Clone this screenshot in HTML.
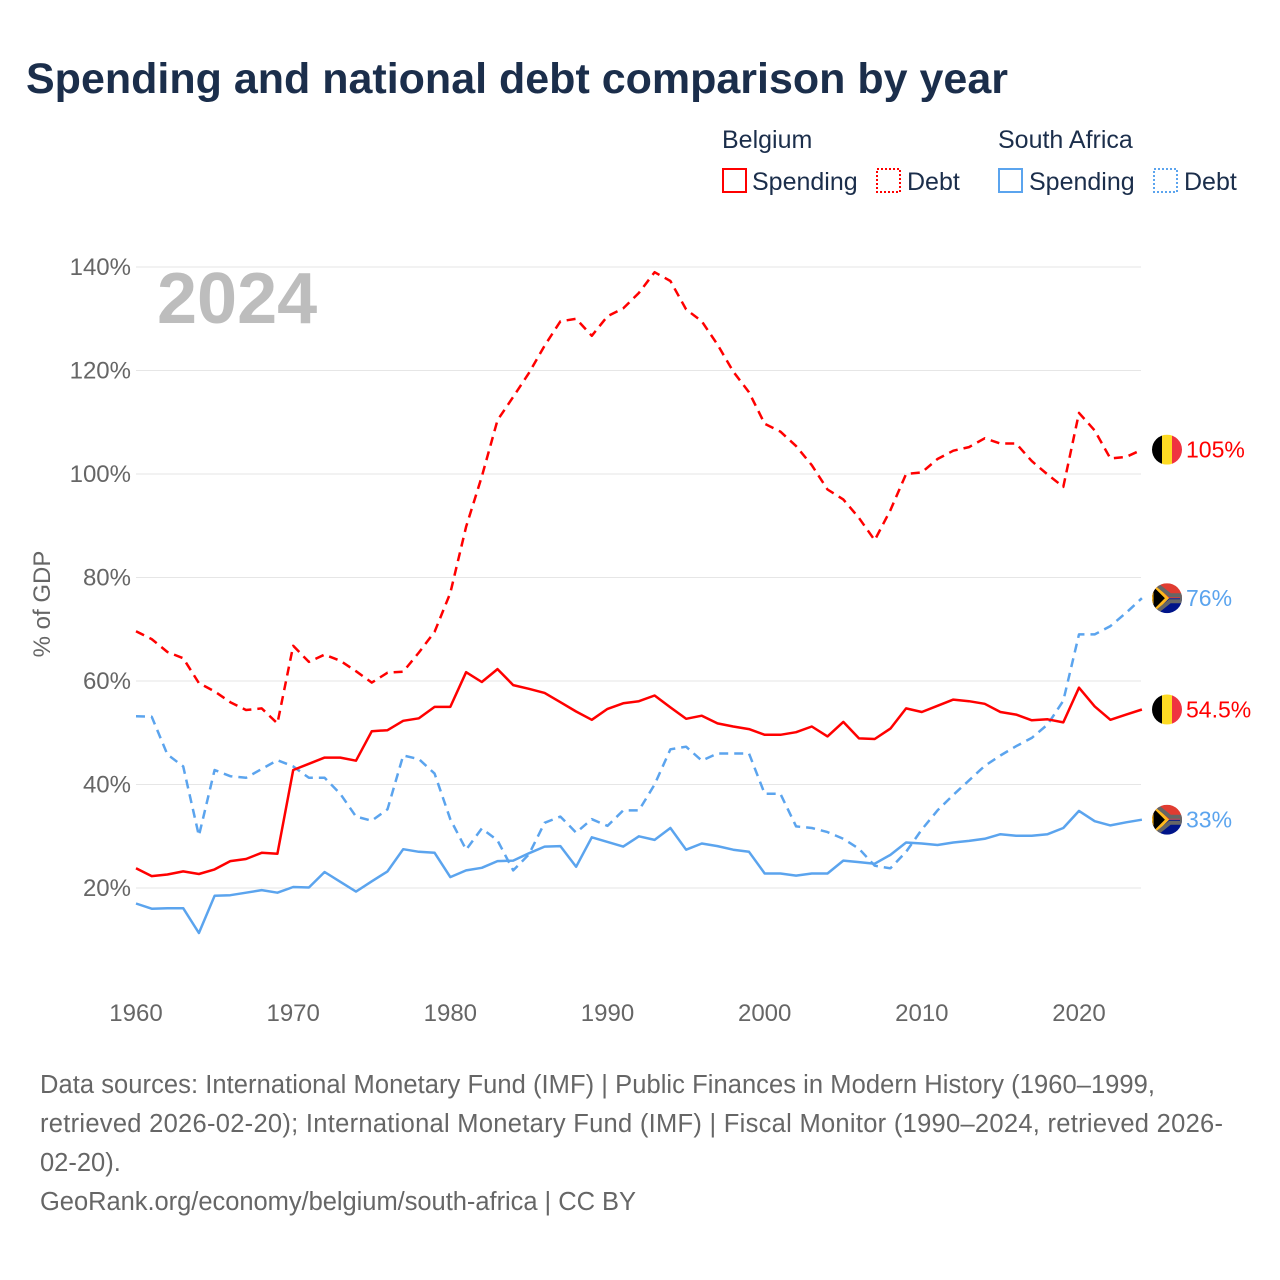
<!DOCTYPE html>
<html><head><meta charset="utf-8"><style>
body{margin:0;background:#fff;font-family:"Liberation Sans",sans-serif}
#root{position:relative;width:1280px;height:1280px;overflow:hidden}
</style></head><body>
<div id="root">
<svg id="chart" width="1280" height="1280">
<text x="26" y="93" font-size="43" font-weight="bold" fill="#1b2e4b">Spending and national debt comparison by year</text>
<g font-size="25" fill="#1b2e4b">
<text x="722" y="148">Belgium</text>
<text x="998" y="148">South Africa</text>
<g><rect x="723" y="169" width="23" height="23" fill="none" stroke="#ff0000" stroke-width="2"/><text x="752" y="190">Spending</text></g>
<g><rect x="877" y="169" width="23" height="23" fill="none" stroke="#ff0000" stroke-width="2" stroke-dasharray="2,2"/><text x="907" y="190">Debt</text></g>
<g><rect x="999" y="169" width="23" height="23" fill="none" stroke="#5ba4ee" stroke-width="2"/><text x="1029" y="190">Spending</text></g>
<g><rect x="1154" y="169" width="23" height="23" fill="none" stroke="#5ba4ee" stroke-width="2" stroke-dasharray="2,2"/><text x="1184" y="190">Debt</text></g>
</g>
<text x="157" y="323" font-size="72" font-weight="bold" fill="#bdbdbd">2024</text>
<text transform="translate(50,604) rotate(-90)" text-anchor="middle" font-size="24" fill="#666">% of GDP</text>
<g id="grid"></g><g id="series"></g><g id="ends"></g>
<g font-size="25.5" fill="#666">
<text x="40" y="1093" textLength="1115">Data sources: International Monetary Fund (IMF) | Public Finances in Modern History (1960–1999,</text>
<text x="40" y="1132" textLength="1183">retrieved 2026-02-20); International Monetary Fund (IMF) | Fiscal Monitor (1990–2024, retrieved 2026-</text>
<text x="40" y="1171">02-20).</text>
<text x="40" y="1210" textLength="596">GeoRank.org/economy/belgium/south-africa | CC BY</text>
</g>
</svg></div>
<script>
const years=[];for(let y=1960;y<=2024;y++)years.push(y);
const yTicks=[20,40,60,80,100,120,140];
const xTicks=[1960,1970,1980,1990,2000,2010,2020];
const beSpending=[23.8,22.3,22.6,23.2,22.7,23.6,25.2,25.6,26.8,26.6,42.8,44,45.2,45.2,44.6,50.3,50.5,52.3,52.8,55,55,61.7,59.8,62.3,59.2,58.5,57.7,55.9,54.1,52.5,54.6,55.7,56.1,57.2,54.9,52.7,53.3,51.8,51.2,50.7,49.6,49.6,50.1,51.2,49.3,52.1,48.9,48.8,50.8,54.7,54,55.2,56.4,56.1,55.6,54,53.5,52.4,52.6,52,58.7,55.1,52.5,53.5,54.5];
const beDebt=[69.6,68.1,65.6,64.4,59.6,58,55.9,54.4,54.7,51.8,66.8,63.7,65.1,63.9,61.9,59.7,61.6,61.8,65.5,69.5,77,89.8,99.5,110.4,114.9,119.5,124.8,129.5,130,126.7,130.5,132,135,139,137.3,131.8,129.5,125,119.8,115.8,109.7,108.2,105.4,101.7,97,95.1,91.5,87.2,93,100,100.3,102.9,104.5,105.2,106.9,105.9,105.9,102.5,99.9,97.5,111.8,108.4,103,103.3,104.7];
const saSpending=[17,16,16.1,16.1,11.3,18.5,18.6,19.1,19.6,19.1,20.2,20.1,23.1,21.2,19.3,21.3,23.2,27.5,27,26.8,22.1,23.4,23.9,25.2,25.3,26.7,28,28.1,24.1,29.8,28.9,28,30,29.3,31.6,27.4,28.6,28.1,27.4,27,22.8,22.8,22.4,22.8,22.8,25.3,25,24.7,26.4,28.8,28.6,28.3,28.8,29.1,29.5,30.4,30.1,30.1,30.4,31.6,34.9,32.9,32.1,32.7,33.2];
const saDebt=[53.2,53.1,45.8,43.5,30.1,42.8,41.6,41.3,43,44.7,43.5,41.3,41.3,38.2,33.8,33,35.2,45.6,44.9,42.1,33.3,27.4,31.5,29.2,23.4,26.5,32.6,33.8,30.7,33.3,32,35,35,40,46.8,47.3,44.6,46,46,46,38.2,38.2,31.9,31.6,30.8,29.5,27.6,24.3,23.8,27,31.3,35,38,40.8,43.6,45.6,47.4,49,51.6,56.2,69,69,70.6,73.2,76];
const endLabels=["105%","54.5%","76%","33%"];
const NS="http://www.w3.org/2000/svg";
const X=y=>136+(y-1960)*(1079-136)/60;
const Y=v=>991.5-v*5.175;
function mk(t,a,p){const e=document.createElementNS(NS,t);for(const k in a)e.setAttribute(k,a[k]);p.appendChild(e);return e;}
const grid=document.getElementById('grid');
yTicks.forEach(v=>{
 const l=mk('line',{x1:136,x2:1141,y1:Y(v),y2:Y(v),stroke:'#e6e6e6','stroke-width':1},grid);
 
 
 const t=mk('text',{x:131,y:Y(v)+8,'text-anchor':'end','font-size':24,fill:'#666'},grid);t.textContent=v+'%';
 
 
});
xTicks.forEach(v=>{
 const t=mk('text',{x:X(v),y:1021,'text-anchor':'middle','font-size':24,fill:'#666'},grid);t.textContent=v;
 
 
});
const ser=document.getElementById('series');
function line(data,color,dash,name){
 const d=data.map((v,i)=>(i?'L':'M')+X(years[i]).toFixed(1)+','+Y(v).toFixed(1)).join('');
 const p=mk('path',{d:d,fill:'none',stroke:color,'stroke-width':2.5,'stroke-linejoin':'round'},ser);
 if(dash)p.setAttribute('stroke-dasharray','9,6');
 
 
}
line(saSpending,'#5ba4ee',false,'line-sa-spending');
line(saDebt,'#5ba4ee',true,'line-sa-debt');
line(beSpending,'#ff0000',false,'line-belgium-spending');
line(beDebt,'#ff0000',true,'line-belgium-debt');
const ends=document.getElementById('ends');
const defs=mk('defs',{},ends);
const cp=mk('clipPath',{id:'c'},defs);mk('circle',{cx:0,cy:0,r:15},cp);
function flag(v,be,lab,col,name){
 const g=mk('g',{transform:'translate(1167,'+Y(v)+')','clip-path':'url(#c)'},ends);
 
 
 if(be){mk('rect',{x:-15,y:-15,width:10,height:30,fill:'#000'},g);mk('rect',{x:-5,y:-15,width:10,height:30,fill:'#fdda24'},g);mk('rect',{x:5,y:-15,width:10,height:30,fill:'#ef3340'},g);}
 else{mk('rect',{x:-15,y:-15,width:30,height:15,fill:'#e03c31'},g);mk('rect',{x:-15,y:0,width:30,height:15,fill:'#001489'},g);
  mk('path',{d:'M-15,-15 L0,0 L-15,15 Z',fill:'#000',stroke:'#ffb81c','stroke-width':3},g);
  mk('path',{d:'M-12,-15 L3,-3 L15,-3 L15,3 L3,3 L-12,15',fill:'none',stroke:'#666','stroke-width':4},g);}
 const t=mk('text',{x:1186,y:Y(v)+8,'font-size':23,fill:col},ends);t.textContent=lab;
 
 
}
flag(beDebt[64],true,endLabels[0],'#ff0000','belgium-debt');
flag(beSpending[64],true,endLabels[1],'#ff0000','belgium-spending');
flag(saDebt[64],false,endLabels[2],'#5ba4ee','sa-debt');
flag(saSpending[64],false,endLabels[3],'#5ba4ee','sa-spending');
</script>
</body></html>
